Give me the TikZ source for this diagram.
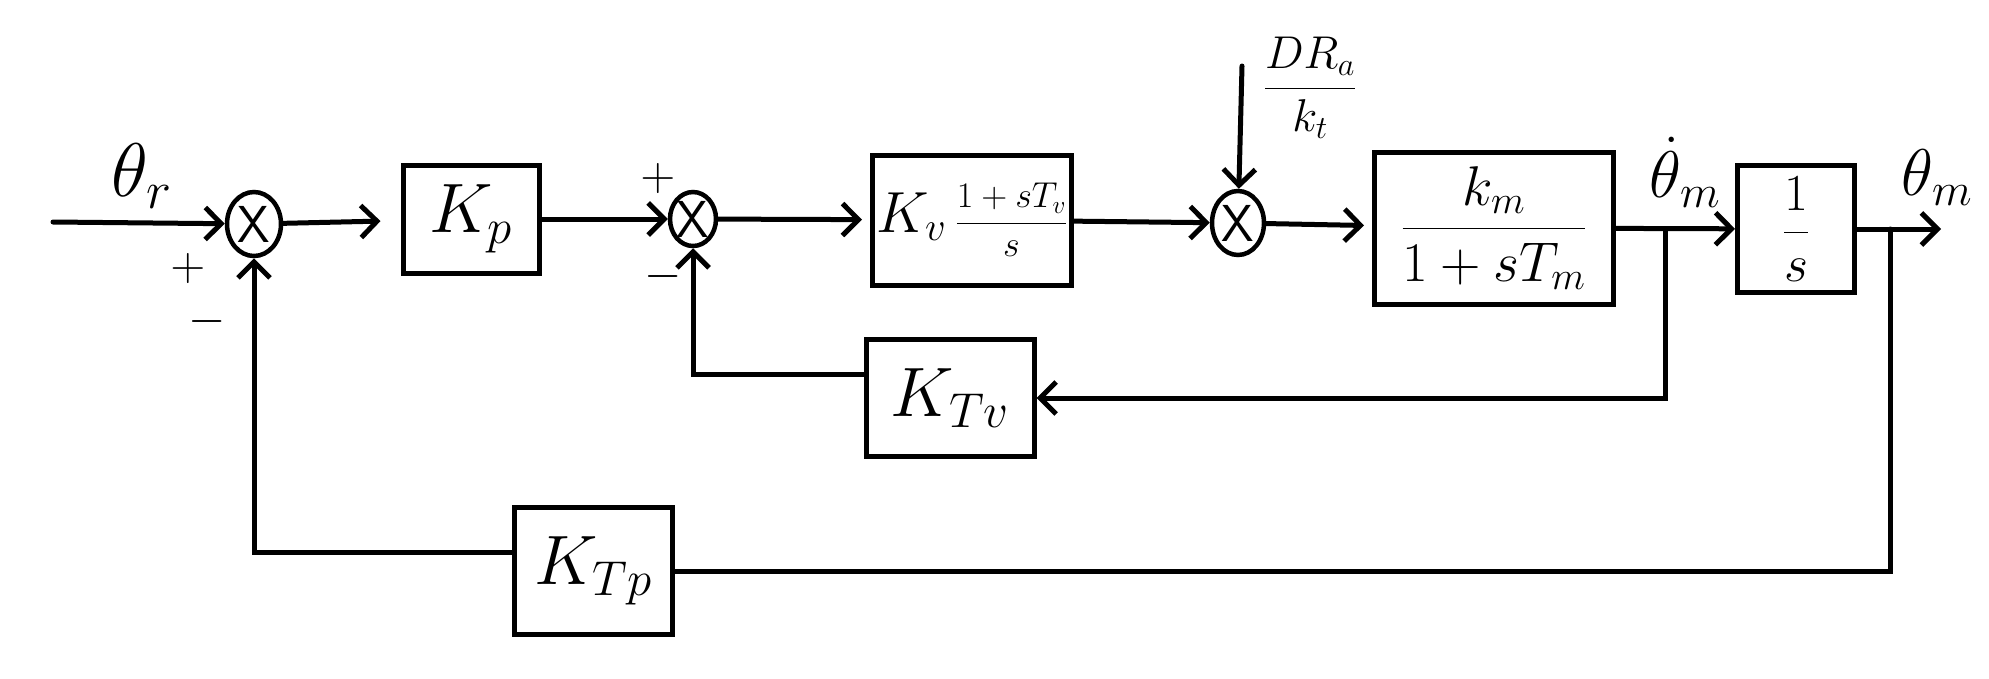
\RequirePackage{fix-cm}
\documentclass[tikz,border=0pt]{standalone}
\usepackage{amsmath}
\usetikzlibrary{arrows.meta, positioning, shapes.geometric}

\begin{document}
\begin{tikzpicture}[x=1pt, y=-1pt, line width=5pt, line cap=round,
  >={Straight Barb[length=16pt, width=32pt, line width=5pt]},
  font=\fontsize{56}{64}\selectfont,
  blk/.style={draw, inner sep=0pt},
  gain/.style={blk, font=\fontsize{70}{80}\selectfont},
  sumj/.style={draw, ellipse, inner sep=0pt, line width=4.5pt, font=\fontsize{52}{56}\selectfont\sffamily},
  sgn/.style={inner sep=0pt, font=\fontsize{48}{52}\selectfont},
  lbl/.style={inner sep=0pt, font=\fontsize{66}{74}\selectfont}]
\useasboundingbox (0,0) rectangle (1989,678);
% forward path
\coordinate (in) at (53,222);
\node[sumj, minimum width=54, minimum height=64] (sum1) at (254,224) {X};
\node[gain, minimum width=136, minimum height=108] (kp) at (471,219) {$K_p$};
\node[sumj, minimum width=46, minimum height=54] (sum2) at (693,219) {X};
\node[blk, minimum width=199, minimum height=130] (kv) at (972,220)
  {{\fontsize{58}{66}\selectfont$K_v$}\,{\fontsize{36}{42}\selectfont$\dfrac{1+sT_v}{s}$}};
\node[sumj, minimum width=52, minimum height=64] (sum3) at (1238,223) {X};
\coordinate (dist) at (1242,66);
\node[blk, minimum width=239, minimum height=152] (km) at (1494,228) {$\dfrac{k_m}{1+sT_m}$};
\node[blk, minimum width=117, minimum height=127, font=\fontsize{52}{60}\selectfont] (onebys) at (1796,229) {$\dfrac{1}{s}$};
\coordinate (out) at (1941,229);
\coordinate (vbranch) at (1665,229);
\coordinate (pbranch) at (1890,229);
% feedback blocks
\node[gain, minimum width=168, minimum height=117] (ktv) at (950,398) {$K_{Tv}$};
\node[gain, minimum width=158, minimum height=127] (ktp) at (593,571) {$K_{Tp}$};
% labels
\node[lbl, font=\fontsize{76}{84}\selectfont] (thr) at (142,176) {$\theta_r$};
\node[sgn] (p1) at (188,268) {$+$};
\node[sgn] (m1) at (207,321) {$-$};
\node[sgn] (p2) at (658,178) {$+$};
\node[sgn] (m2) at (663,276) {$-$};
\node[inner sep=0pt, font=\fontsize{46}{52}\selectfont] (dra) at (1310,88) {$\dfrac{DR_a}{k_t}$};
\node[lbl, anchor=south] (thmdot) at (1685,210) {$\dot\theta_m$};
\node[lbl, anchor=south] (thm) at (1937,208) {$\theta_m$};
% connectors
\draw[->] (in) -- (sum1);
\draw[->, shorten >=20pt] (sum1) -- (kp);
\draw[->] (kp) -- (sum2);
\draw[->, shorten >=8pt] (sum2) -- (kv);
\draw[->] (kv) -- (sum3);
\draw[->] (dist) -- (sum3);
\draw[->, shorten >=8pt] (sum3) -- (km);
\draw[->] (km) -- (onebys);
\draw[->] (onebys) -- (out);
\draw[->] (vbranch) |- (ktv);
\draw[->] ([yshift=24pt]ktv.west) -| (sum2);
\draw (pbranch) |- (ktp);
\draw[->] ([yshift=19pt]ktp.west) -| (sum1);
\end{tikzpicture}
\end{document}
